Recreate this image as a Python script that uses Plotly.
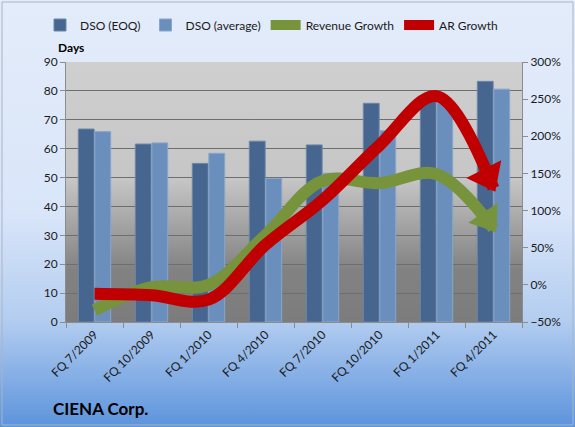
import base64
import plotly.graph_objects as go

categories = ["FQ 7/2009", "FQ 10/2009", "FQ 1/2010", "FQ 4/2010",
              "FQ 7/2010", "FQ 10/2010", "FQ 1/2011", "FQ 4/2011"]
dso_eoq = [66.8, 61.6, 54.9, 62.6, 61.3, 75.7, 77.5, 83.3]
dso_avg = [65.9, 62.0, 58.4, 49.7, 51.5, 66.2, 75.8, 80.6]
revenue_growth = [-34, -3, 0, 67, 140, 137, 149, 76]
ar_growth = [-12, -14, -20, 54, 114, 188, 254, 130]

W, H = 575, 427
ML, MR, MT, MB = 66, 53, 62, 105
PW, PH = W - ML - MR, H - MT - MB

def svg_uri(stops, w=10, h=100):
    st = "".join(f'<stop offset="{o}" stop-color="{c}"/>' for o, c in stops)
    svg = (f'<svg xmlns="http://www.w3.org/2000/svg" width="{w}" height="{h}" '
           f'preserveAspectRatio="none" viewBox="0 0 {w} {h}">'
           f'<defs><linearGradient id="g" x1="0" y1="0" x2="0" y2="1">{st}</linearGradient></defs>'
           f'<rect x="0" y="0" width="{w}" height="{h}" fill="url(#g)"/></svg>')
    return "data:image/svg+xml;base64," + base64.b64encode(svg.encode()).decode()

page_bg = svg_uri([(0, "#e3ecfa"), (0.5, "#d9e5f9"), (0.75, "#b3cdf0"), (1, "#5c93dc")])
plot_bg = svg_uri([(0, "#cfcfcf"), (0.45, "#c6c6c6"), (0.8, "#828282"), (1, "#7c7c7c")])

font = "Lato, 'Open Sans', sans-serif"
GREEN, RED = "#77933c", "#c00000"

fig = go.Figure()
fig.add_trace(go.Bar(x=categories, y=dso_eoq, name="DSO (EOQ)",
                     marker=dict(color="#46668f", line=dict(color="#6d87a8", width=1))))
fig.add_trace(go.Bar(x=categories, y=dso_avg, name="DSO (average)",
                     marker=dict(color="#6b8fbd", line=dict(color="#8aa6cb", width=1))))

for values, name, color, head_angle, head_size, head_off in [
        (revenue_growth, "Revenue Growth", GREEN, 146, 31, 11),
        (ar_growth, "AR Growth", RED, 153, 34, 13)]:
    fig.add_trace(go.Scatter(x=categories, y=values, name=name, yaxis="y2", mode="lines",
                             line=dict(color=color, width=12, shape="spline", smoothing=1.0)))
    fig.add_trace(go.Scatter(x=categories[-1:], y=values[-1:], yaxis="y2", mode="markers",
                             showlegend=False, hoverinfo="skip",
                             marker=dict(symbol="triangle-up", angle=head_angle, size=head_size,
                                         standoff=head_off, color=color, line=dict(width=0))))

fig.update_layout(
    width=W, height=H,
    margin=dict(l=ML, r=MR, t=MT, b=MB, autoexpand=False),
    paper_bgcolor="#dbe6f8",
    plot_bgcolor="rgba(0,0,0,0)",
    font=dict(family=font, size=12, color="#1a1a1a"),
    barmode="group", bargap=0.42, bargroupgap=0.04,
    showlegend=True,
    legend=dict(orientation="h", x=(40 - ML) / PW, xanchor="left", y=1 + (MT - 25) / PH,
                yanchor="middle", bgcolor="rgba(0,0,0,0)", font=dict(size=12),
                traceorder="normal", itemwidth=30),
    xaxis=dict(range=[-0.5, len(categories) - 0.5], tickangle=-45, showgrid=False,
               showline=True, linecolor="#8c8c8c", ticks="outside", ticklen=5,
               tickcolor="#8c8c8c", tickson="boundaries"),
    yaxis=dict(range=[0, 90], dtick=10, showgrid=True, gridcolor="#6e6e6e", gridwidth=1,
               showline=True, linecolor="#8c8c8c", ticks="outside", ticklen=5,
               tickcolor="#8c8c8c", zeroline=False),
    yaxis2=dict(range=[-50, 300], dtick=50, overlaying="y", side="right", ticksuffix="%",
                showgrid=False, showline=True, linecolor="#8c8c8c", ticks="outside",
                ticklen=5, tickcolor="#8c8c8c", zeroline=False),
    images=[
        dict(source=page_bg, xref="paper", yref="paper", x=-ML / PW, y=1 + MT / PH,
             sizex=W / PW, sizey=H / PH, xanchor="left", yanchor="top",
             sizing="stretch", layer="below"),
        dict(source=plot_bg, xref="paper", yref="paper", x=0, y=1, sizex=1, sizey=1,
             xanchor="left", yanchor="top", sizing="stretch", layer="below"),
    ],
    shapes=[
        dict(type="rect", xref="paper", yref="paper", x0=(-ML + 2) / PW, x1=(W - ML - 2) / PW,
             y0=-(MB - 2) / PH, y1=1 + (MT - 2) / PH, line=dict(color="#a9b4c4", width=1),
             fillcolor="rgba(0,0,0,0)", layer="above"),
    ],
    annotations=[
        dict(text="<b>Days</b>", xref="paper", yref="paper", x=(56 - ML) / PW, y=1 + (MT - 47) / PH,
             xanchor="left", yanchor="middle", showarrow=False, font=dict(size=12, color="#000")),
        dict(text="<b>CIENA Corp.</b>", xref="paper", yref="paper", x=(51 - ML) / PW,
             y=-(408 - MT - PH) / PH, xanchor="left", yanchor="middle", showarrow=False,
             font=dict(size=17, color="#000")),
    ],
)

fig.write_html("out.html")
